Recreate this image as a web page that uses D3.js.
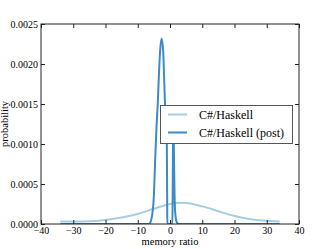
<!DOCTYPE html>
<html lang="en">
<head>
<meta charset="utf-8">
<title>memory ratio</title>
<script src="https://cdn.jsdelivr.net/npm/d3@7"></script>
<style>
  body { margin: 0; background: #fff; }
</style>
</head>
<body>
<script>
// light curve: C#/Haskell
var lightX = [-34, -30, -25, -20, -15, -10, -5, 0, 3, 5, 10, 15, 20, 25, 30, 34];
var lightY = [0.00003, 0.00003, 0.000035, 0.00005, 0.00008, 0.000125, 0.00019, 0.00025,
              0.000265, 0.000262, 0.00022, 0.00016, 0.0001, 0.00006, 0.00004, 0.00003];

// dark curve: C#/Haskell (post)
var darkX = [-34, -8, -6.5, -6, -5.5, -5, -4.6, -4.2, -3.8, -3.4, -3.0, -2.6, -2.1, -1.8,
             -1.55, -1.3, -1.0, -0.92, -0.85, -0.8, 0.7, 0.8, 0.9, 1.0, 1.1, 1.25, 1.4,
             1.6, 1.9, 2.3, 2.8, 34];
var darkY = [0, 0, 0, 0.00003, 0.00012, 0.00035, 0.0008, 0.0012, 0.0015, 0.0019, 0.0022,
             0.00232, 0.00215, 0.0018, 0.0015, 0.0013, 0.0011, 0.0006, 0.0001, 0, 0,
             0.0002, 0.0008, 0.0012, 0.0012, 0.0008, 0.0004, 0.00015, 0.00005, 0.00001, 0, 0];

var seriesNames = ["C#/Haskell", "C#/Haskell (post)"];
var seriesColors = ["#a6cee3", "#3d8bc4"];
var xTicks = [-40, -30, -20, -10, 0, 10, 20, 30, 40];
var yTicks = [0, 0.0005, 0.001, 0.0015, 0.002, 0.0025];

var w = 332, h = 249;
var pLeft = 41, pRight = 299, pTop = 24, pBottom = 224;
var serif = "'Liberation Serif', 'Times New Roman', serif";

var svg = d3.select("body").append("svg")
  .attr("width", w).attr("height", h)
  .style("font-family", serif);

var xScale = d3.scaleLinear().domain([-40, 40]).range([pLeft, pRight]);
var yScale = d3.scaleLinear().domain([0, 0.0025]).range([pBottom, pTop]);

svg.append("clipPath").attr("id", "clip")
  .append("rect").attr("x", pLeft).attr("y", pTop)
  .attr("width", pRight - pLeft).attr("height", pBottom - pTop);

var line = d3.line()
  .x(function(d) { return xScale(d[0]); })
  .y(function(d) { return yScale(d[1]); })
  .curve(d3.curveMonotoneX);

var series = [d3.zip(lightX, lightY), d3.zip(darkX, darkY)];

svg.append("g").attr("clip-path", "url(#clip)")
  .selectAll("path").data(series).enter().append("path")
  .attr("d", line)
  .attr("fill", "none")
  .attr("stroke", function(d, i) { return seriesColors[i]; })
  .attr("stroke-width", 2);

var fmtX = function(d) { return d < 0 ? "\u2212" + Math.abs(d) : d; };

// axes, ticks inward on all sides
svg.append("g").attr("transform", "translate(0," + pBottom + ")")
  .call(d3.axisBottom(xScale).tickValues(xTicks).tickSizeInner(-4).tickSizeOuter(0).tickPadding(3).tickFormat(fmtX));
svg.append("g").attr("transform", "translate(0," + pTop + ")")
  .call(d3.axisTop(xScale).tickValues(xTicks).tickSizeInner(-4).tickSizeOuter(0).tickFormat(""));
svg.append("g").attr("transform", "translate(" + pLeft + ",0)")
  .call(d3.axisLeft(yScale).tickValues(yTicks).tickSizeInner(-4).tickSizeOuter(0).tickPadding(3).tickFormat(d3.format(".4f")));
svg.append("g").attr("transform", "translate(" + pRight + ",0)")
  .call(d3.axisRight(yScale).tickValues(yTicks).tickSizeInner(-4).tickSizeOuter(0).tickFormat(""));

svg.selectAll(".domain").remove();
svg.selectAll(".tick line").attr("stroke", "#222");
svg.selectAll("text").style("font-family", serif);
svg.selectAll(".tick text").attr("font-size", 10).attr("fill", "#000");

svg.append("rect").attr("x", pLeft).attr("y", pTop)
  .attr("width", pRight - pLeft).attr("height", pBottom - pTop)
  .attr("fill", "none").attr("stroke", "#222").attr("stroke-width", 1);

svg.append("text").attr("x", (pLeft + pRight) / 2).attr("y", 245)
  .attr("text-anchor", "middle").attr("font-size", 10.5)
  .style("font-family", serif).text("memory ratio");
svg.append("text")
  .attr("transform", "translate(7.5," + ((pTop + pBottom) / 2) + ") rotate(-90)")
  .attr("text-anchor", "middle").attr("font-size", 10.5)
  .style("font-family", serif).text("probability");

// legend
var lg = svg.append("g");
lg.append("rect").attr("x", 160.5).attr("y", 105.5).attr("width", 132).attr("height", 38)
  .attr("fill", "#fff").attr("stroke", "#555").attr("stroke-width", 1);
seriesNames.forEach(function(name, i) {
  var yy = 114.5 + i * 18;
  lg.append("line").attr("x1", 168).attr("x2", 187).attr("y1", yy).attr("y2", yy)
    .attr("stroke", seriesColors[i]).attr("stroke-width", 2);
  lg.append("text").attr("x", 199).attr("y", yy + 4).attr("font-size", 12)
    .style("font-family", serif).text(name);
});
</script>
</body>
</html>
